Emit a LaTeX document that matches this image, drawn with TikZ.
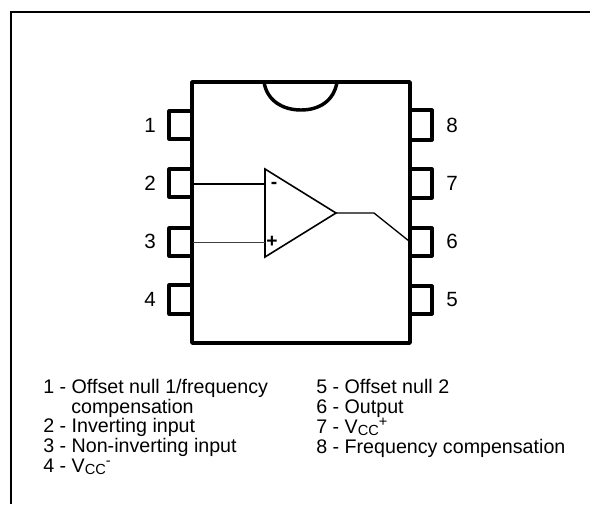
\documentclass[tikz,border=0pt]{standalone}
\usepackage{fontspec}
\setmainfont{Liberation Sans}
\newcommand{\px}{0.0264583cm}
\newcommand{\vcc}[1]{V\raisebox{-2.2pt}{\fontsize{11pt}{12pt}\selectfont CC}\raisebox{5pt}{\fontsize{11pt}{12pt}\selectfont #1}}
\tikzset{
 x=\px,y=-\px,
 frameline/.style={draw=black,line width=1.5pt},
 body/.style={draw=black,line width=2.6pt,line join=round},
 pin/.style={draw=black,line width=2.4pt,line join=round},
 wire/.style={draw=black,line width=1pt},
 amp/.style={draw=black,line width=1.2pt,line join=miter},
 lab/.style={inner sep=0pt,anchor=base west,font=\fontsize{14.8pt}{16pt}\selectfont},
 num/.style={inner sep=0pt,anchor=base,font=\fontsize{15.5pt}{16pt}\selectfont},
 sgn/.style={inner sep=0pt,font=\bfseries\fontsize{14.5pt}{15pt}\selectfont},
}
\begin{document}
\begin{tikzpicture}
\useasboundingbox (0,0) rectangle (590,504);
\coordinate (fa) at (11,504);
\coordinate (fb) at (11,12);
\coordinate (fc) at (590,12);
\draw[frameline] (fa) -- (fb) -- (fc);
% chip body
\coordinate (tl) at (192,82);
\coordinate (tr) at (410,82);
\coordinate (br) at (410,343);
\coordinate (bl) at (192,343);
\draw[body] (tl) -- (tr) -- (br) -- (bl) -- cycle;
\coordinate (na) at (264,82);
\coordinate (nm) at (301,110);
\coordinate (nb) at (337,82);
\draw[body] (na) .. controls (267,101) and (283,110) .. (nm) .. controls (319,110) and (334,101) .. (nb);
% pins
\foreach \ya/\yb in {111/139,169/197,228/256,285/314}{
 \draw[pin] (192,\ya) -- (169,\ya) -- (169,\yb) -- (192,\yb);
}
\foreach \ya/\yb in {110/140,169/198,228/256,286/314}{
 \draw[pin] (410,\ya) -- (432,\ya) -- (432,\yb) -- (410,\yb);
}
% pin numbers
\node[num] (n1) at (150,132) {1};
\node[num] (n2) at (150,190.5) {2};
\node[num] (n3) at (150,248.5) {3};
\node[num] (n4) at (150,306.5) {4};
\node[num] (n8) at (452,132) {8};
\node[num] (n7) at (452,190.5) {7};
\node[num] (n6) at (452,248.5) {6};
\node[num] (n5) at (452,306.5) {5};
% amplifier
\coordinate (ampa) at (265,169);
\coordinate (ampb) at (265,257);
\coordinate (ampc) at (336,213);
\draw[amp] (ampa) -- (ampb) -- (ampc) -- cycle;
\coordinate (in2) at (193,184);
\coordinate (in3) at (193,242);
\coordinate (ia) at (265,184);
\coordinate (ib) at (265,242);
\coordinate (outa) at (374,213);
\coordinate (outb) at (409,241);
\draw[wire] (in2) -- (ia);
\draw[wire,line width=.75pt,draw=black!75] (in3) -- (ib);
\draw[wire] (ampc) -- (outa) -- (outb);
\node[sgn] (minus) at (274,185) {-};
\node[sgn] (plus) at (272,242) {+};
% legend
\node[lab] (l1) at (43,393) {1 - Offset null 1/frequency};
\node[lab] (l1b) at (71,413) {compensation};
\node[lab] (l2) at (43,432) {2 - Inverting input};
\node[lab] (l3) at (43,452) {3 - Non-inverting input};
\node[lab] (l4) at (43,472) {4 - \vcc{-}};
\node[lab] (l5) at (316,393) {5 - Offset null 2};
\node[lab] (l6) at (316,413) {6 - Output};
\node[lab] (l7) at (316,433) {7 - \vcc{+}};
\node[lab] (l8) at (316,453) {8 - Frequency compensation};
\end{tikzpicture}
\end{document}
